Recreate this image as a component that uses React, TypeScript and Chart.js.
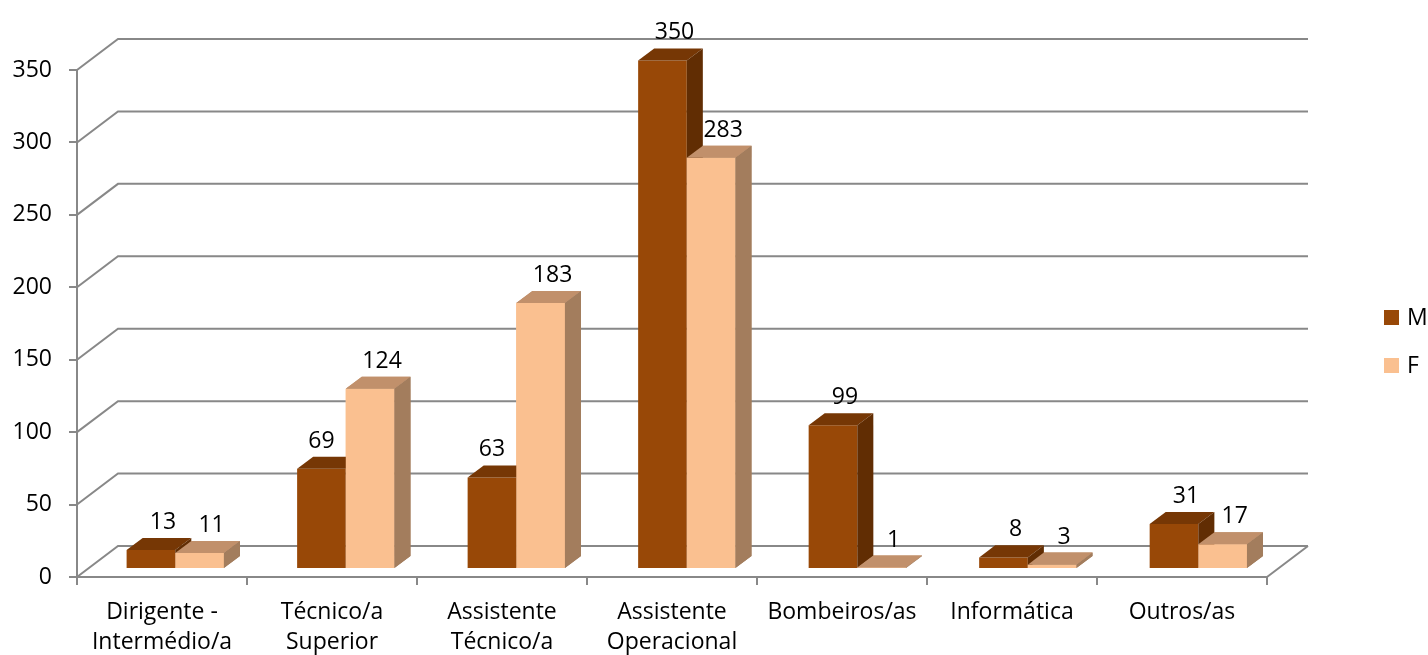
import React, { useEffect, useRef } from 'react';
import { Chart, registerables } from 'chart.js';

Chart.register(...registerables);

// ---- data ----
const categories: (string | string[])[] = [
  ['Dirigente -', 'Intermédio/a'],
  ['Técnico/a', 'Superior'],
  ['Assistente', 'Técnico/a'],
  ['Assistente', 'Operacional'],
  'Bombeiros/as',
  'Informática',
  'Outros/as',
];
const seriesNames = ['M', 'F'];
const valuesM = [13, 69, 63, 350, 99, 8, 31];
const valuesF = [11, 124, 183, 283, 1, 3, 17];
const yTickValues = [0, 50, 100, 150, 200, 250, 300, 350];

// ---- styles ----
const FONT = "'Open Sans', sans-serif";
const FONT_SIZE = 23;
const GRID = '#888888';
const colorsFront = ['#984807', '#FAC090'];
const colorsTop = ['#763705', '#C1906B'];
const colorsSide = ['#612D03', '#A37D5D'];

const WALL_DX = 41;
const WALL_DY = 31;
const PLANE_DX = 13;
const PLANE_DY = -8;
const PLANE_S = 1.003;
const DEPTH_DX = 16;
const DEPTH_DY = 12;

function drawFaces(ctx: CanvasRenderingContext2D, el: any, di: number) {
  const { x, y, base, width } = el.getProps(['x', 'y', 'base', 'width'], true);
  const x1 = x - width / 2;
  const x2 = x + width / 2;
  ctx.fillStyle = colorsTop[di];
  ctx.beginPath();
  ctx.moveTo(x1, y);
  ctx.lineTo(x2, y);
  ctx.lineTo(x2 + DEPTH_DX, y - DEPTH_DY);
  ctx.lineTo(x1 + DEPTH_DX, y - DEPTH_DY);
  ctx.closePath();
  ctx.fill();
  ctx.fillStyle = colorsSide[di];
  ctx.beginPath();
  ctx.moveTo(x2, y);
  ctx.lineTo(x2 + DEPTH_DX, y - DEPTH_DY);
  ctx.lineTo(x2 + DEPTH_DX, base - DEPTH_DY);
  ctx.lineTo(x2, base);
  ctx.closePath();
  ctx.fill();
}

const threeD = {
  id: 'threeD',
  beforeDatasetsDraw(chart: any) {
    const { ctx, chartArea: a } = chart;
    const y = chart.scales.y;
    ctx.save();
    ctx.strokeStyle = GRID;
    ctx.lineWidth = 2;
    ctx.beginPath();
    for (const v of yTickValues) {
      const py = y.getPixelForValue(v);
      ctx.moveTo(a.left, py);
      ctx.lineTo(a.left + WALL_DX, py - WALL_DY);
      ctx.lineTo(a.right + WALL_DX, py - WALL_DY);
    }
    ctx.moveTo(a.right, a.bottom);
    ctx.lineTo(a.right + WALL_DX, a.bottom - WALL_DY);
    ctx.stroke();
    ctx.restore();
  },
  beforeDatasetDraw(chart: any) {
    const { ctx, chartArea: a } = chart;
    ctx.save();
    ctx.translate(a.left + PLANE_DX, a.bottom + PLANE_DY);
    ctx.scale(PLANE_S, PLANE_S);
    ctx.translate(-a.left, -a.bottom);
  },
  afterDatasetDraw(chart: any, args: any) {
    const { ctx } = chart;
    const di = args.index;
    // dataset 1 (F) is drawn first, dataset 0 (M) last
    for (const el of args.meta.data) drawFaces(ctx, el, di);
    if (di === 0) {
      // F bars stand in front-right of M bars: redraw them on top
      const metaF = chart.getDatasetMeta(1);
      for (const el of metaF.data) {
        el.draw(ctx, chart.chartArea);
        drawFaces(ctx, el, 1);
      }
    }
    ctx.restore();
  },
  afterDatasetsDraw(chart: any) {
    const { ctx, chartArea: a } = chart;
    const T = (px: number, py: number) => [
      a.left + PLANE_DX + (px - a.left) * PLANE_S,
      a.bottom + PLANE_DY + (py - a.bottom) * PLANE_S,
    ];
    ctx.save();
    ctx.font = `${FONT_SIZE}px ${FONT}`;
    ctx.fillStyle = '#000';
    ctx.textAlign = 'center';
    ctx.textBaseline = 'alphabetic';
    [0, 1].forEach((di) => {
      const meta = chart.getDatasetMeta(di);
      meta.data.forEach((el: any, i: number) => {
        const { x, y } = el.getProps(['x', 'y'], true);
        const [tx, ty] = T(x, y);
        let off = 12;
        if (di === 0 && valuesF[i] > valuesM[i]) off = 0;
        const v = chart.data.datasets[di].data[i];
        ctx.fillText(String(v), tx + off, ty - DEPTH_DY - 9);
      });
    });
    ctx.restore();
  },
  afterDraw(chart: any) {
    const { ctx } = chart;
    ctx.save();
    ctx.font = `${FONT_SIZE}px ${FONT}`;
    ctx.textAlign = 'left';
    ctx.textBaseline = 'middle';
    seriesNames.forEach((name, i) => {
      const top = 310 + i * 48;
      ctx.fillStyle = colorsFront[i];
      ctx.fillRect(1384, top, 15, 15);
      ctx.fillStyle = '#000';
      ctx.fillText(name, 1407, top + 8);
    });
    ctx.restore();
  },
};

export default function App() {
  const ref = useRef<HTMLCanvasElement>(null);
  useEffect(() => {
    let chart: Chart | null = null;
    let cancelled = false;
    const make = () => {
      if (cancelled || !ref.current) return;
      Chart.defaults.font.family = FONT;
      Chart.defaults.font.size = FONT_SIZE;
      Chart.defaults.color = '#000';
      chart = new Chart(ref.current, {
        type: 'bar',
        data: {
          labels: categories as any,
          datasets: [
            {
              label: seriesNames[0],
              data: valuesM,
              backgroundColor: colorsFront[0],
              borderWidth: 0,
              clip: false as any,
            },
            {
              label: seriesNames[1],
              data: valuesF,
              backgroundColor: colorsFront[1],
              borderWidth: 0,
              clip: false as any,
            },
          ],
        },
        options: {
          animation: false,
          responsive: false,
          devicePixelRatio: 1,
          layout: { padding: { top: 70, right: 161, left: 0, bottom: 0 } },
          plugins: { legend: { display: false }, tooltip: { enabled: false } },
          datasets: { bar: { categoryPercentage: 0.5706, barPercentage: 1 } },
          scales: {
            x: {
              offset: true,
              grid: { offset: true, drawOnChartArea: false, tickLength: 8, color: GRID, lineWidth: 2 },
              border: { display: true, color: GRID, width: 2 },
              ticks: {
                autoSkip: false,
                maxRotation: 0,
                minRotation: 0,
                padding: 13,
                color: '#000',
                font: { family: FONT, size: FONT_SIZE, lineHeight: 1.3 },
              },
              afterFit: (s: any) => {
                s.height = 78;
              },
            },
            y: {
              min: 0,
              max: 350,
              grid: { drawOnChartArea: false, tickLength: 8, color: GRID, lineWidth: 2 },
              border: { display: true, color: GRID, width: 2 },
              ticks: {
                stepSize: 50,
                padding: 17,
                color: '#000',
                font: { family: FONT, size: FONT_SIZE },
              },
              afterFit: (s: any) => {
                s.width = 77;
              },
            },
          },
        } as any,
        plugins: [threeD],
      });
    };
    const fontsApi = (document as any).fonts;
    if (fontsApi && fontsApi.load) {
      fontsApi.load(`${FONT_SIZE}px "Open Sans"`).then(make, make);
    } else {
      make();
    }
    return () => {
      cancelled = true;
      if (chart) chart.destroy();
    };
  }, []);
  return (
    <div style={{ position: 'fixed', left: 0, top: 0, width: 1428, height: 655, background: '#fff' }}>
      <canvas ref={ref} width={1428} height={655} style={{ display: 'block' }} />
    </div>
  );
}
